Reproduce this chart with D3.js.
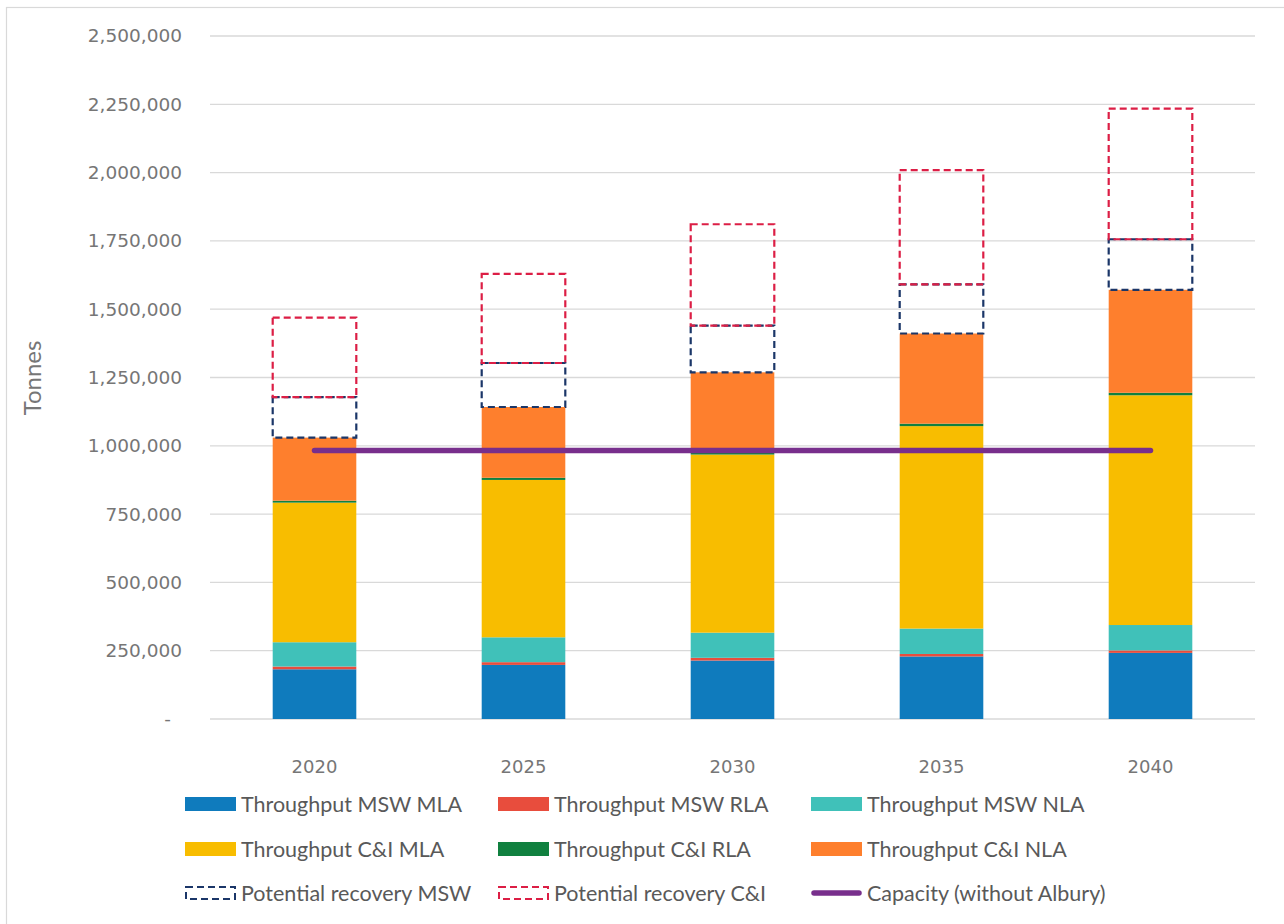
<!DOCTYPE html>
<html>
<head>
<meta charset="utf-8">
<script src="https://cdn.jsdelivr.net/npm/d3@7"></script>
<style>
  html, body { margin: 0; padding: 0; background: #fff; }
  svg { display: block; }
</style>
</head>
<body>
<svg id="chart" width="1284" height="924"></svg>
<script>
// Projected waste throughput, potential recovery and capacity (tonnes)
const years = ["2020", "2025", "2030", "2035", "2040"];

const mswMLA = [182000, 198000, 214000, 229000, 242000];
const mswRLA = [10000, 10000, 10000, 9000, 9000];
const mswNLA = [89000, 91000, 92000, 93000, 93000];
const ciMLA  = [511000, 576000, 652000, 741000, 841000];
const ciRLA  = [7000, 8000, 7000, 9000, 9000];
const ciNLA  = [231000, 259000, 294000, 330000, 377000];

const recoveryMSW = [148000, 161000, 171000, 180000, 185000];
const recoveryCI  = [291000, 326000, 371000, 418000, 478000];

const capacity = [983000, 983000, 983000, 983000, 983000];

const yTicks = [0, 250000, 500000, 750000, 1000000, 1250000, 1500000, 1750000, 2000000, 2250000, 2500000];

const seriesNames = [
  "Throughput MSW MLA", "Throughput MSW RLA", "Throughput MSW NLA",
  "Throughput C&I MLA", "Throughput C&I RLA", "Throughput C&I NLA",
  "Potential recovery MSW", "Potential recovery C&I", "Capacity (without Albury)"
];

const stackKeys = ["mswMLA", "mswRLA", "mswNLA", "ciMLA", "ciRLA", "ciNLA"];
const stackColors = ["#0f7bbd", "#e84d3d", "#40c1b9", "#f8bd00", "#10803f", "#fe7f2d"];
const colorMSWRec = "#1b3668";
const colorCIRec = "#dc1e45";
const colorCap = "#782f8c";

// Rows for the stack layout
const rows = years.map((y, i) => ({
  year: y,
  mswMLA: mswMLA[i], mswRLA: mswRLA[i], mswNLA: mswNLA[i],
  ciMLA: ciMLA[i], ciRLA: ciRLA[i], ciNLA: ciNLA[i],
  recMSW: recoveryMSW[i], recCI: recoveryCI[i], cap: capacity[i]
}));

const svg = d3.select("#chart");

// Outer frame
svg.append("rect")
  .attr("x", 6.5).attr("y", 7.5)
  .attr("width", 1290).attr("height", 930)
  .attr("fill", "none").attr("stroke", "#d9d9d9").attr("stroke-width", 1.2);

const x = d3.scaleBand().domain(years).range([210, 1255]).paddingInner(0.6).paddingOuter(0.3);
const y = d3.scaleLinear().domain([0, 2500000]).range([719, 36]);

// Gridlines
svg.append("g")
  .selectAll("line")
  .data(yTicks)
  .join("line")
  .attr("x1", 210).attr("x2", 1255)
  .attr("y1", d => y(d)).attr("y2", d => y(d))
  .attr("stroke", "#d9d9d9").attr("stroke-width", 1.3);

// Y axis labels
const fmt = d3.format(",");
const yAxis = d3.axisLeft(y)
  .tickValues(yTicks)
  .tickSize(0)
  .tickPadding(28)
  .tickFormat(d => d === 0 ? "-" : fmt(d));
const yG = svg.append("g").attr("transform", "translate(210,0)").call(yAxis);
yG.select(".domain").remove();
yG.selectAll("text")
  .attr("fill", "#767676")
  .style("font-family", "'DejaVu Sans', sans-serif")
  .style("font-size", "18.5px")
  .attr("dx", d => d === 0 ? -11 : 0);

// X axis labels
const xAxis = d3.axisBottom(x).tickSize(0).tickPadding(41);
const xG = svg.append("g").attr("transform", "translate(0,719)").call(xAxis);
xG.select(".domain").remove();
xG.selectAll("text")
  .attr("fill", "#767676")
  .style("font-family", "'DejaVu Sans', sans-serif")
  .style("font-size", "18px");

// Axis title
svg.append("text")
  .attr("transform", "translate(41,378) rotate(-90)")
  .attr("text-anchor", "middle")
  .attr("fill", "#767676")
  .style("font-family", "Lato, sans-serif")
  .style("font-size", "24px")
  .text("Tonnes");

// Stacked throughput bars
const stack = d3.stack().keys(stackKeys);
const layers = stack(rows);

svg.append("g")
  .selectAll("g")
  .data(layers)
  .join("g")
  .attr("fill", (d, i) => stackColors[i])
  .selectAll("rect")
  .data(d => d)
  .join("rect")
  .attr("x", d => x(d.data.year))
  .attr("width", x.bandwidth())
  .attr("y", d => y(d[1]))
  .attr("height", d => y(d[0]) - y(d[1]));

// Potential recovery boxes stacked above the throughput
const totals = rows.map(r => stackKeys.reduce((s, k) => s + r[k], 0));

const recGroup = svg.append("g").attr("fill", "none").attr("stroke-width", 2.2).attr("stroke-dasharray", "7,4");

recGroup.selectAll("rect.msw")
  .data(rows)
  .join("rect")
  .attr("class", "msw")
  .attr("x", d => x(d.year))
  .attr("width", x.bandwidth())
  .attr("y", (d, i) => y(totals[i] + d.recMSW))
  .attr("height", (d, i) => y(totals[i]) - y(totals[i] + d.recMSW))
  .attr("stroke", colorMSWRec);

recGroup.selectAll("rect.ci")
  .data(rows)
  .join("rect")
  .attr("class", "ci")
  .attr("x", d => x(d.year))
  .attr("width", x.bandwidth())
  .attr("y", (d, i) => y(totals[i] + d.recMSW + d.recCI))
  .attr("height", (d, i) => y(totals[i] + d.recMSW) - y(totals[i] + d.recMSW + d.recCI))
  .attr("stroke", colorCIRec);

// Capacity line
const line = d3.line()
  .x(d => x(d.year) + x.bandwidth() / 2)
  .y(d => y(d.cap));
svg.append("path")
  .datum(rows)
  .attr("d", line)
  .attr("fill", "none")
  .attr("stroke", colorCap)
  .attr("stroke-width", 5.5)
  .attr("stroke-linecap", "round");

// Legend
const legendCols = [185, 498, 811];
const legendRows = [804, 849, 893];
const legend = svg.append("g");

seriesNames.forEach((name, i) => {
  const cx = legendCols[i % 3];
  const cy = legendRows[Math.floor(i / 3)];
  const g = legend.append("g").attr("transform", `translate(${cx},${cy})`);
  if (i < 6) {
    g.append("rect").attr("x", 0).attr("y", -7).attr("width", 51).attr("height", 14)
      .attr("fill", stackColors[i]);
  } else if (i < 8) {
    g.append("rect").attr("x", 1).attr("y", -6).attr("width", 49).attr("height", 12)
      .attr("fill", "none")
      .attr("stroke", i === 6 ? colorMSWRec : colorCIRec)
      .attr("stroke-width", 2)
      .attr("stroke-dasharray", "7,4");
  } else {
    g.append("line").attr("x1", 3).attr("x2", 48).attr("y1", 0).attr("y2", 0)
      .attr("stroke", colorCap).attr("stroke-width", 5.5).attr("stroke-linecap", "round");
  }
  g.append("text")
    .attr("x", 56)
    .attr("y", 0)
    .attr("dy", "0.35em")
    .attr("fill", "#595959")
    .style("font-family", "Lato, sans-serif")
    .style("font-size", "21.5px")
    .text(name);
});
</script>
</body>
</html>
